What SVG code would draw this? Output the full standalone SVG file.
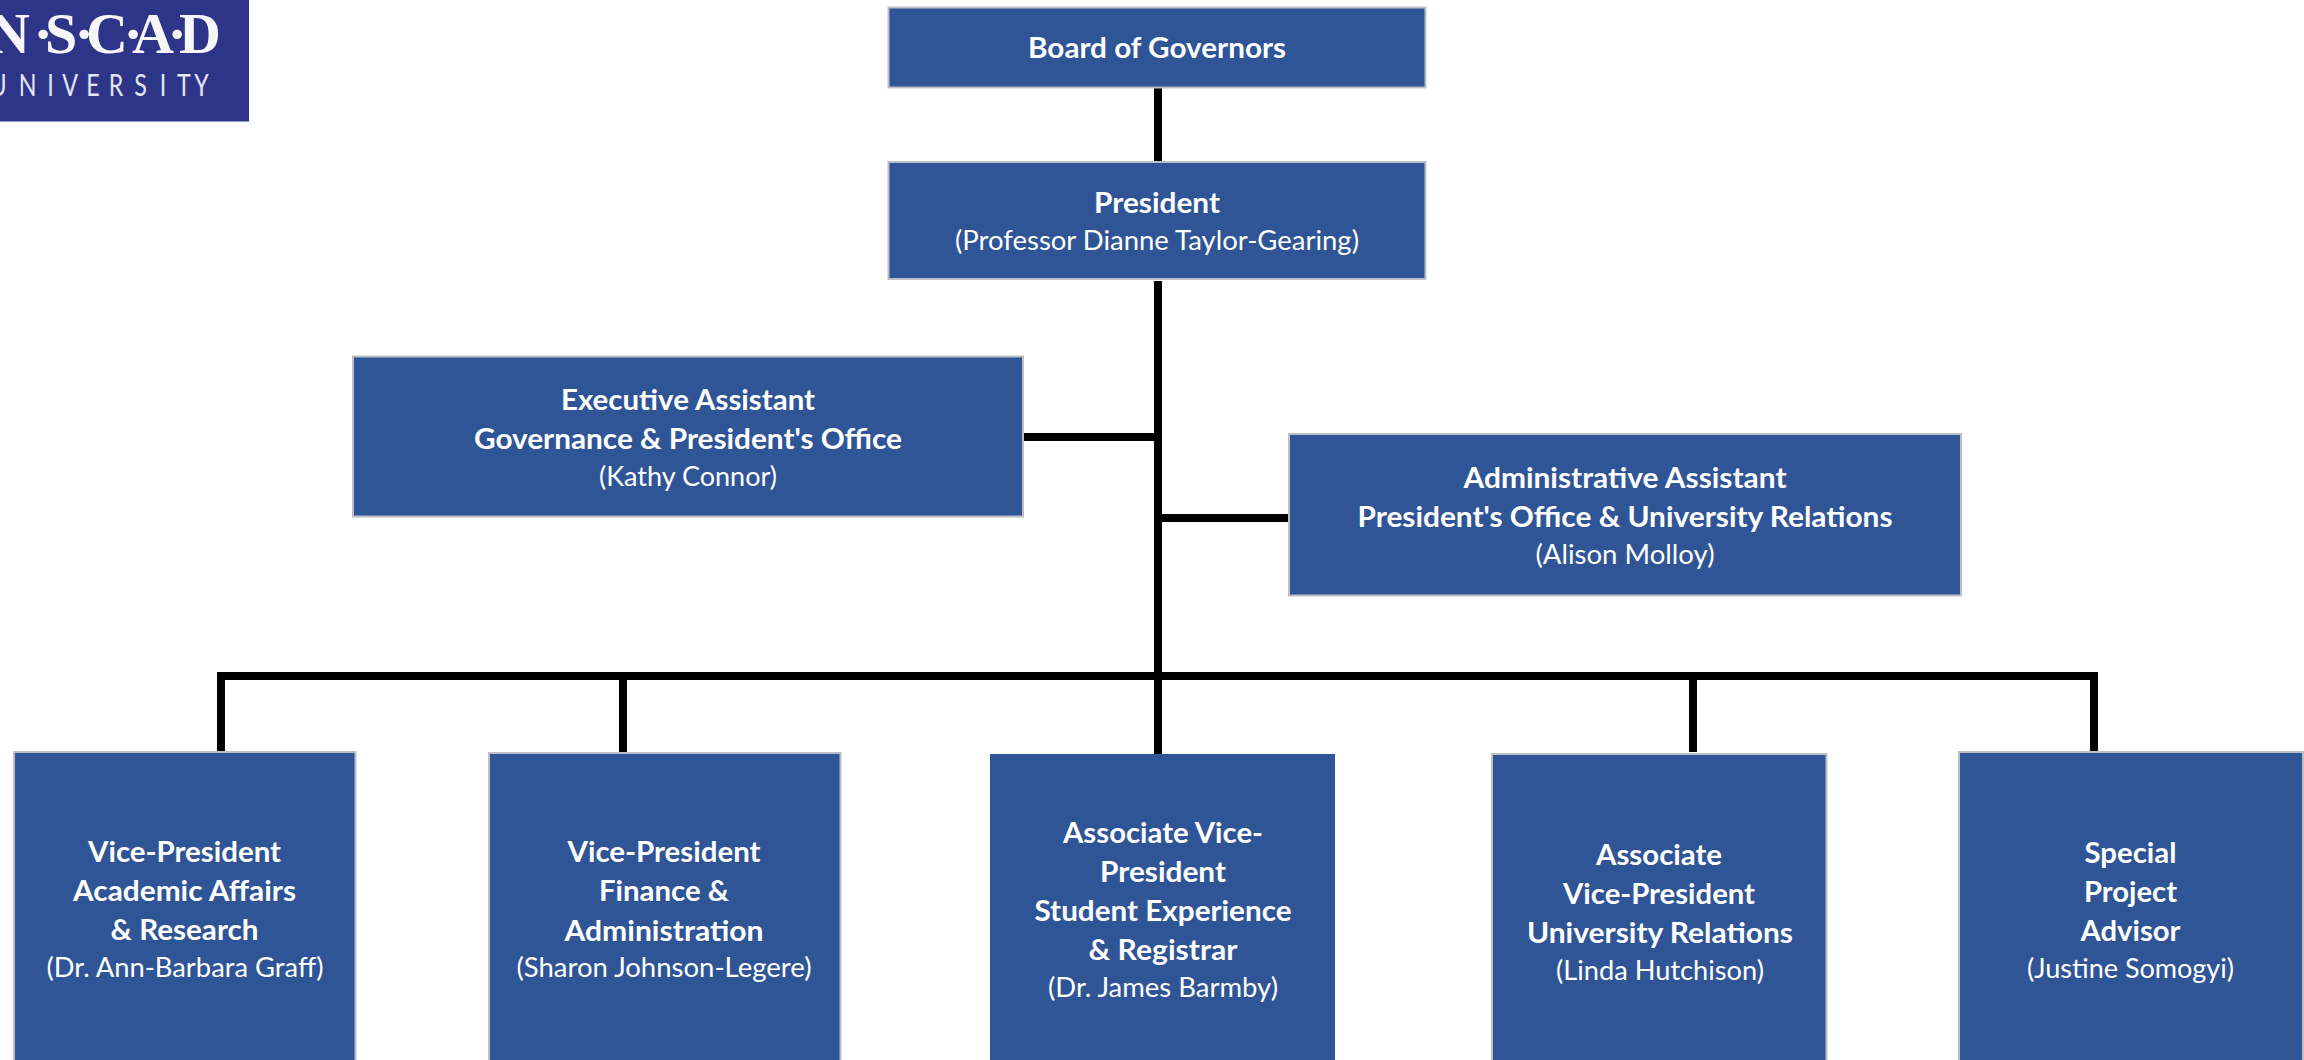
<svg xmlns="http://www.w3.org/2000/svg" width="2304" height="1060" viewBox="0 0 2304 1060">
<style>
.box{fill:#2f5597;stroke:#bcbfc6;stroke-width:2}
.c{fill:none;stroke:#000;stroke-width:8}
text{font-family:Lato,"Open Sans","Liberation Sans",sans-serif;fill:#fff;text-anchor:middle}
.b{font-weight:700;font-size:28px}
.r{font-weight:400;font-size:27px}
.l1{font-family:"Liberation Serif",serif;font-weight:700;font-size:58px;text-anchor:start;fill:#f7f7fa}
.l2{font-size:31px;text-anchor:start;fill:#e4e6f5}
</style>
<rect width="2304" height="1060" fill="#fff"/>
<g id="logo">
<rect x="0" y="0" width="249" height="121.500" fill="#2e3588"/>
<text class="l1" x="-12 33.500 45 74.500 86 123.500 132 167.500 179" y="53">N·S·C·A·D</text>
<text class="l2" transform="scale(.75 1)" x="-14 25 63 83 115 145 179 213 236 259" y="96.500">UNIVERSITY</text>
</g>
<g id="connectors">
<path class="c" d="M1158 88V161"/>
<path class="c" d="M1158 281V754"/>
<path class="c" d="M1024 437H1158"/>
<path class="c" d="M1158 518H1288"/>
<path class="c" d="M221 751V676H2094V751"/>
<path class="c" d="M623 676V752"/>
<path class="c" d="M1693 676V752"/>
</g>
<g id="board">
<rect class="box" x="888.500" y="7.500" width="537" height="80"/>
<text class="b" x="1157" y="58" textLength="258" lengthAdjust="spacingAndGlyphs">Board of Governors</text>
</g>
<g id="president">
<rect class="box" x="888.500" y="162" width="537" height="117"/>
<text class="b" x="1157" y="213" textLength="126" lengthAdjust="spacingAndGlyphs">President</text>
<text class="r" x="1157" y="250" textLength="404" lengthAdjust="spacingAndGlyphs">(Professor Dianne Taylor-Gearing)</text>
</g>
<g id="executive-assistant">
<rect class="box" x="353" y="356.500" width="670" height="160"/>
<text class="b" x="688" y="410" textLength="254" lengthAdjust="spacingAndGlyphs">Executive Assistant</text>
<text class="b" x="688" y="449" textLength="428" lengthAdjust="spacingAndGlyphs">Governance &amp; President's Office</text>
<text class="r" x="688" y="486" textLength="178" lengthAdjust="spacingAndGlyphs">(Kathy Connor)</text>
</g>
<g id="administrative-assistant">
<rect class="box" x="1289" y="434" width="672" height="161.500"/>
<text class="b" x="1625" y="488" textLength="323" lengthAdjust="spacingAndGlyphs">Administrative Assistant</text>
<text class="b" x="1625" y="527" textLength="535" lengthAdjust="spacingAndGlyphs">President's Office &amp; University Relations</text>
<text class="r" x="1625" y="564" textLength="179" lengthAdjust="spacingAndGlyphs">(Alison Molloy)</text>
</g>
<g id="vp-academic">
<rect class="box" x="14" y="752" width="341.500" height="320"/>
<text class="b" x="184.500" y="862" textLength="193" lengthAdjust="spacingAndGlyphs">Vice-President</text>
<text class="b" x="184.500" y="901" textLength="223" lengthAdjust="spacingAndGlyphs">Academic Affairs</text>
<text class="b" x="184.500" y="940" textLength="148" lengthAdjust="spacingAndGlyphs">&amp; Research</text>
<text class="r" x="185" y="977" textLength="277" lengthAdjust="spacingAndGlyphs">(Dr. Ann-Barbara Graff)</text>
</g>
<g id="vp-finance">
<rect class="box" x="489" y="753" width="351.500" height="320"/>
<text class="b" x="664" y="862" textLength="193" lengthAdjust="spacingAndGlyphs">Vice-President</text>
<text class="b" x="664" y="901" textLength="130" lengthAdjust="spacingAndGlyphs">Finance &amp;</text>
<text class="b" x="664" y="941" textLength="199" lengthAdjust="spacingAndGlyphs">Administration</text>
<text class="r" x="664" y="977" textLength="295" lengthAdjust="spacingAndGlyphs">(Sharon Johnson-Legere)</text>
</g>
<g id="avp-student">
<rect x="990" y="754" width="345" height="320" fill="#2f5597"/>
<text class="b" x="1163" y="843" textLength="200" lengthAdjust="spacingAndGlyphs">Associate Vice-</text>
<text class="b" x="1163" y="882" textLength="126" lengthAdjust="spacingAndGlyphs">President</text>
<text class="b" x="1163" y="921" textLength="257" lengthAdjust="spacingAndGlyphs">Student Experience</text>
<text class="b" x="1163" y="960" textLength="149" lengthAdjust="spacingAndGlyphs">&amp; Registrar</text>
<text class="r" x="1163" y="997" textLength="230" lengthAdjust="spacingAndGlyphs">(Dr. James Barmby)</text>
</g>
<g id="avp-university">
<rect class="box" x="1492" y="754" width="334.500" height="320"/>
<text class="b" x="1659" y="865" textLength="126" lengthAdjust="spacingAndGlyphs">Associate</text>
<text class="b" x="1659" y="904" textLength="192" lengthAdjust="spacingAndGlyphs">Vice-President</text>
<text class="b" x="1660" y="943" textLength="266" lengthAdjust="spacingAndGlyphs">University Relations</text>
<text class="r" x="1660" y="980" textLength="208" lengthAdjust="spacingAndGlyphs">(Linda Hutchison)</text>
</g>
<g id="special-advisor">
<rect class="box" x="1959" y="752" width="344" height="320"/>
<text class="b" x="2130.500" y="863" textLength="92" lengthAdjust="spacingAndGlyphs">Special</text>
<text class="b" x="2130.500" y="902" textLength="93" lengthAdjust="spacingAndGlyphs">Project</text>
<text class="b" x="2130.500" y="941" textLength="100" lengthAdjust="spacingAndGlyphs">Advisor</text>
<text class="r" x="2130.500" y="978" textLength="207" lengthAdjust="spacingAndGlyphs">(Justine Somogyi)</text>
</g>
</svg>
